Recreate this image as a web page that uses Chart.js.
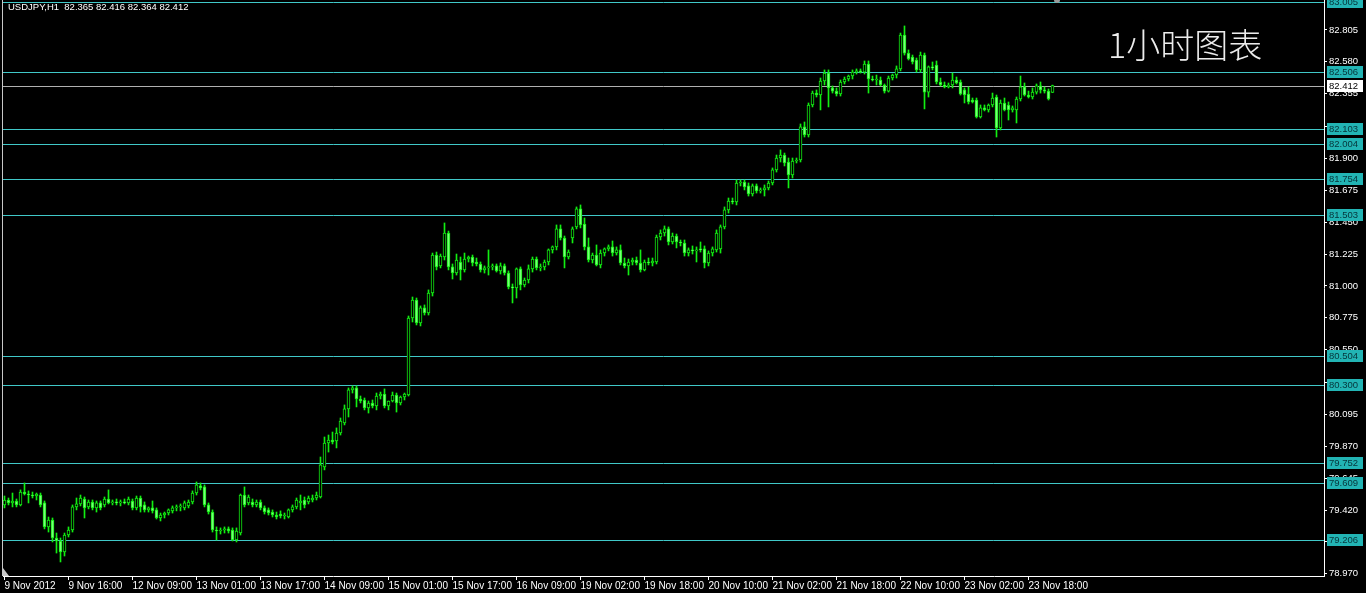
<!DOCTYPE html>
<html><head><meta charset="utf-8">
<script src="https://cdn.jsdelivr.net/npm/chart.js@4.4.1/dist/chart.umd.min.js"></script>
<style>html,body{margin:0;padding:0;background:#000;overflow:hidden}</style>
</head><body><canvas id="c" width="1366" height="593"></canvas>
<script>
const symbolInfo = 'USDJPY,H1  82.365 82.416 82.364 82.412';
const chartNote = '1小时图表';
const xTickBars = [0,16,32,48,64,80,96,112,128,144,160,176,192,208,224,240,256];
const xTickLabels = ['9 Nov 2012','9 Nov 16:00','12 Nov 09:00','13 Nov 01:00','13 Nov 17:00','14 Nov 09:00','15 Nov 01:00','15 Nov 17:00','16 Nov 09:00','19 Nov 02:00','19 Nov 18:00','20 Nov 10:00','21 Nov 02:00','21 Nov 18:00','22 Nov 10:00','23 Nov 02:00','23 Nov 18:00'];
const yTickValues = [78.970,79.195,79.420,79.645,79.870,80.095,80.320,80.550,80.775,81.000,81.225,81.450,81.675,81.900,82.125,82.355,82.580,82.805];
const yTickLabels = ['78.970','79.195','79.420','79.645','79.870','80.095','80.320','80.550','80.775','81.000','81.225','81.450','81.675','81.900','82.125','82.355','82.580','82.805'];
const levelValues = [83.005,82.506,82.103,82.004,81.754,81.503,80.504,80.300,79.752,79.609,79.206];
const levelLabels = ['83.005','82.506','82.103','82.004','81.754','81.503','80.504','80.300','79.752','79.609','79.206'];
const lastPrice = 82.412;
const lastPriceLabel = '82.412';

const openP = [
79.456,79.491,79.470,79.484,79.456,79.547,79.533,79.526,79.519,79.526,
79.470,79.301,79.350,79.223,79.202,79.124,79.244,79.279,79.442,79.463,
79.498,79.442,79.477,79.435,79.470,79.456,79.498,79.470,79.477,79.470,
79.477,79.470,79.484,79.435,79.505,79.456,79.421,79.435,79.421,79.364,
79.385,79.399,79.414,79.435,79.442,79.435,79.449,79.477,79.540,79.590,
79.583,79.456,79.406,79.279,79.272,79.279,79.287,79.279,79.209,79.258,
79.526,79.470,79.477,79.456,79.477,79.435,79.421,79.406,79.385,79.392,
79.378,79.371,79.421,79.442,79.470,79.491,79.477,79.491,79.505,79.512,
79.724,79.893,79.914,79.907,79.963,80.034,80.133,80.267,80.281,80.203,
80.196,80.140,80.175,80.154,80.224,80.238,80.154,80.189,80.231,80.175,
80.217,80.231,80.774,80.901,80.739,80.845,80.809,80.950,81.218,81.141,
81.204,81.373,81.134,81.091,81.169,81.113,81.190,81.204,81.169,81.155,
81.113,81.127,81.134,81.141,81.106,81.141,81.091,80.993,80.986,81.120,
81.007,81.042,81.120,81.190,81.127,81.134,81.169,81.254,81.275,81.402,
81.338,81.204,81.338,81.416,81.543,81.437,81.275,81.183,81.218,81.148,
81.232,81.261,81.275,81.232,81.254,81.162,81.141,81.169,81.183,81.162,
81.113,81.169,81.162,81.169,81.345,81.373,81.402,81.310,81.352,81.310,
81.303,81.232,81.254,81.247,81.261,81.261,81.162,81.232,81.254,81.261,
81.416,81.536,81.599,81.592,81.726,81.733,81.705,81.648,81.705,81.670,
81.677,81.691,81.726,81.818,81.902,81.923,81.874,81.782,81.881,81.888,
82.121,82.064,82.276,82.360,82.346,82.445,82.501,82.396,82.374,82.353,
82.438,82.459,82.480,82.508,82.516,82.508,82.565,82.459,82.452,82.452,
82.417,82.374,82.466,82.487,82.530,82.769,82.642,82.614,82.593,82.523,
82.628,82.367,82.544,82.558,82.438,82.417,82.403,82.417,82.452,82.438,
82.382,82.353,82.311,82.311,82.191,82.255,82.241,82.276,82.332,82.114,
82.290,82.276,82.241,82.241,82.318,82.403,82.346,82.332,82.367,82.410,
82.382,82.374,82.365];

const highP = [
79.519,79.505,79.540,79.498,79.562,79.611,79.555,79.547,79.540,79.540,
79.484,79.371,79.364,79.258,79.223,79.258,79.301,79.456,79.505,79.526,
79.512,79.491,79.491,79.484,79.484,79.512,79.562,79.491,79.498,79.491,
79.498,79.512,79.498,79.519,79.519,79.477,79.442,79.484,79.435,79.399,
79.406,79.428,79.449,79.456,79.463,79.484,79.491,79.555,79.618,79.611,
79.597,79.470,79.421,79.301,79.294,79.301,79.301,79.294,79.294,79.533,
79.583,79.526,79.498,79.491,79.491,79.449,79.435,79.421,79.406,79.414,
79.399,79.428,79.456,79.505,79.526,79.512,79.519,79.526,79.547,79.794,
79.935,79.949,79.970,79.999,80.069,80.161,80.281,80.295,80.295,80.224,
80.210,80.189,80.196,80.245,80.252,80.274,80.189,80.252,80.245,80.224,
80.245,80.788,80.922,80.915,80.859,80.866,80.972,81.232,81.239,81.225,
81.444,81.387,81.155,81.225,81.204,81.232,81.211,81.218,81.197,81.169,
81.141,81.254,81.155,81.155,81.162,81.155,81.106,81.014,81.127,81.134,
81.056,81.148,81.204,81.204,81.155,81.183,81.261,81.282,81.430,81.430,
81.352,81.254,81.416,81.557,81.571,81.479,81.338,81.232,81.289,81.254,
81.268,81.289,81.317,81.275,81.289,81.197,81.190,81.197,81.204,81.254,
81.183,81.197,81.197,81.359,81.395,81.423,81.416,81.373,81.366,81.324,
81.324,81.268,81.282,81.275,81.310,81.282,81.247,81.275,81.395,81.430,
81.557,81.620,81.620,81.747,81.747,81.747,81.726,81.719,81.719,81.691,
81.712,81.740,81.832,81.923,81.959,81.937,81.902,81.902,81.902,82.142,
82.156,82.290,82.374,82.382,82.466,82.523,82.523,82.410,82.396,82.452,
82.473,82.487,82.523,82.530,82.530,82.586,82.586,82.480,82.487,82.473,
82.424,82.480,82.494,82.551,82.783,82.833,82.664,82.628,82.607,82.649,
82.642,82.551,82.579,82.586,82.466,82.438,82.431,82.501,82.473,82.452,
82.396,82.403,82.325,82.325,82.276,82.276,82.283,82.360,82.346,82.311,
82.325,82.297,82.269,82.332,82.480,82.431,82.374,82.396,82.424,82.438,
82.403,82.389,82.416];

const lowP = [
79.435,79.456,79.442,79.442,79.449,79.526,79.470,79.505,79.491,79.442,
79.287,79.265,79.195,79.117,79.054,79.096,79.230,79.265,79.421,79.449,
79.364,79.428,79.421,79.406,79.421,79.442,79.463,79.456,79.456,79.449,
79.463,79.456,79.421,79.421,79.406,79.406,79.406,79.399,79.357,79.343,
79.364,79.385,79.399,79.414,79.414,79.421,79.435,79.463,79.526,79.562,
79.442,79.392,79.265,79.209,79.251,79.258,79.258,79.202,79.195,79.244,
79.442,79.456,79.442,79.442,79.421,79.392,79.385,79.371,79.357,79.364,
79.357,79.364,79.406,79.428,79.421,79.435,79.463,79.477,79.491,79.505,
79.703,79.829,79.886,79.858,79.949,80.020,80.076,80.245,80.147,80.175,
80.126,80.104,80.140,80.126,80.203,80.140,80.126,80.182,80.111,80.161,
80.196,80.224,80.746,80.725,80.718,80.795,80.795,80.929,81.113,81.127,
81.183,81.113,81.049,81.077,81.042,81.098,81.169,81.141,81.141,81.098,
81.091,81.077,81.113,81.098,81.084,81.077,80.979,80.880,80.915,80.972,
80.993,81.021,81.098,81.113,81.106,81.113,81.148,81.232,81.254,81.324,
81.127,81.190,81.303,81.402,81.409,81.254,81.169,81.162,81.141,81.127,
81.211,81.247,81.211,81.218,81.148,81.127,81.077,81.148,81.148,81.098,
81.106,81.148,81.141,81.155,81.324,81.352,81.289,81.296,81.268,81.282,
81.211,81.211,81.225,81.169,81.239,81.127,81.141,81.211,81.239,81.232,
81.402,81.514,81.578,81.571,81.705,81.677,81.634,81.634,81.655,81.655,
81.634,81.677,81.712,81.803,81.874,81.846,81.691,81.761,81.867,81.874,
82.050,82.050,82.262,82.332,82.241,82.417,82.262,82.360,82.339,82.339,
82.424,82.445,82.459,82.494,82.501,82.494,82.360,82.445,82.417,82.410,
82.360,82.367,82.452,82.466,82.516,82.628,82.593,82.565,82.508,82.508,
82.248,82.332,82.523,82.424,82.410,82.396,82.396,82.396,82.424,82.346,
82.290,82.283,82.290,82.184,82.184,82.234,82.226,82.262,82.050,82.100,
82.234,82.170,82.226,82.149,82.304,82.339,82.325,82.318,82.353,82.360,
82.360,82.311,82.364];

const closeP = [
79.491,79.470,79.484,79.456,79.547,79.533,79.526,79.519,79.533,79.456,
79.301,79.350,79.223,79.202,79.124,79.244,79.279,79.442,79.463,79.505,
79.435,79.477,79.435,79.470,79.435,79.498,79.470,79.477,79.470,79.477,
79.470,79.498,79.435,79.505,79.442,79.421,79.435,79.414,79.364,79.385,
79.399,79.421,79.435,79.442,79.449,79.470,79.477,79.540,79.597,79.576,
79.456,79.406,79.279,79.272,79.279,79.287,79.272,79.209,79.272,79.526,
79.456,79.512,79.456,79.477,79.435,79.406,79.399,79.385,79.371,79.378,
79.385,79.421,79.442,79.491,79.484,79.456,79.505,79.505,79.526,79.738,
79.893,79.914,79.900,79.963,80.048,80.133,80.267,80.281,80.203,80.189,
80.140,80.175,80.154,80.224,80.238,80.154,80.189,80.231,80.175,80.217,
80.238,80.774,80.901,80.739,80.845,80.809,80.950,81.218,81.134,81.211,
81.373,81.134,81.091,81.183,81.113,81.190,81.204,81.162,81.155,81.113,
81.127,81.134,81.141,81.106,81.141,81.091,80.993,80.986,81.120,81.007,
81.042,81.120,81.190,81.127,81.134,81.169,81.254,81.275,81.402,81.338,
81.204,81.239,81.402,81.543,81.430,81.275,81.183,81.218,81.148,81.232,
81.261,81.275,81.232,81.254,81.162,81.141,81.169,81.183,81.162,81.113,
81.169,81.162,81.176,81.345,81.373,81.402,81.310,81.352,81.310,81.303,
81.232,81.254,81.247,81.254,81.254,81.162,81.232,81.261,81.373,81.416,
81.536,81.599,81.592,81.726,81.733,81.698,81.648,81.705,81.670,81.677,
81.691,81.726,81.818,81.902,81.923,81.867,81.782,81.881,81.888,82.121,
82.064,82.276,82.360,82.346,82.445,82.501,82.396,82.374,82.353,82.438,
82.459,82.480,82.508,82.516,82.508,82.565,82.459,82.452,82.452,82.417,
82.374,82.466,82.487,82.530,82.769,82.642,82.600,82.579,82.523,82.628,
82.367,82.544,82.537,82.438,82.417,82.403,82.417,82.452,82.431,82.353,
82.346,82.297,82.297,82.191,82.255,82.241,82.276,82.325,82.114,82.290,
82.241,82.241,82.255,82.318,82.403,82.346,82.332,82.367,82.410,82.382,
82.374,82.318,82.412];

const GREEN = '#12ee12';
const BEAR_FILL = '#78ff78';
const LEVEL_COLOR = '#40c8c8';

const wickData = openP.map((o, i) => ({x: i, y: [lowP[i], highP[i]]}));
const bodyData = openP.map((o, i) => ({x: i, y: [o, closeP[i]]}));

const decorPlugin = {
  id: 'decor',
  beforeDatasetsDraw(chart) {
    const {ctx, chartArea: a, scales: {y}} = chart;
    ctx.save();
    ctx.lineWidth = 1;
    ctx.strokeStyle = LEVEL_COLOR;
    levelValues.forEach(v => {
      const py = Math.round(y.getPixelForValue(v)) + 0.5;
      ctx.beginPath(); ctx.moveTo(a.left, py); ctx.lineTo(a.right, py); ctx.stroke();
    });
    const pp = Math.round(y.getPixelForValue(lastPrice)) + 0.5;
    ctx.strokeStyle = '#b0b0b0';
    ctx.beginPath(); ctx.moveTo(a.left, pp); ctx.lineTo(a.right, pp); ctx.stroke();
    ctx.restore();
  },
  afterDraw(chart) {
    const {ctx, chartArea: a, scales: {y}} = chart;
    ctx.save();
    ctx.font = '9.5px "Liberation Sans"';
    ctx.textBaseline = 'middle';
    levelValues.forEach((v, i) => {
      const py = Math.round(y.getPixelForValue(v));
      ctx.fillStyle = '#22b4b4';
      ctx.fillRect(a.right + 3, py - 6, 36, 12);
      ctx.fillStyle = '#06343a';
      ctx.fillText(levelLabels[i], a.right + 5, py + 0.5);
    });
    const pp = Math.round(y.getPixelForValue(lastPrice));
    ctx.fillStyle = '#ffffff';
    ctx.fillRect(a.right + 3, pp - 6, 36, 12);
    ctx.fillStyle = '#000000';
    ctx.fillText(lastPriceLabel, a.right + 5, pp + 0.5);
    ctx.strokeStyle = '#c8c8c8';
    ctx.lineWidth = 1;
    ctx.beginPath(); ctx.moveTo(2.5, 0); ctx.lineTo(2.5, a.bottom); ctx.stroke();
    ctx.fillStyle = '#c8c8c8';
    ctx.beginPath(); ctx.moveTo(3, a.bottom - 8); ctx.lineTo(9, a.bottom); ctx.lineTo(3, a.bottom); ctx.closePath(); ctx.fill();
    ctx.fillStyle = '#9a9a9a';
    ctx.beginPath(); ctx.arc(1057, 0, 3, 0, Math.PI); ctx.fill();
    ctx.fillStyle = '#ffffff';
    ctx.font = '9.5px "Liberation Sans"';
    ctx.textBaseline = 'middle';
    ctx.fillText(symbolInfo, 8, 7);
    ctx.font = '300 34px "Noto Sans CJK SC"';
    ctx.fillStyle = '#ececec';
    ctx.textBaseline = 'alphabetic';
    ctx.fillText(chartNote, 1108, 58);
    ctx.restore();
  }
};

new Chart(document.getElementById('c'), {
  type: 'bar',
  data: {
    datasets: [
      {label: 'range', data: wickData, backgroundColor: GREEN, borderWidth: 0,
       barThickness: 1, grouped: false, order: 2},
      {label: 'body', data: bodyData,
       backgroundColor: ctx => (closeP[ctx.dataIndex] >= openP[ctx.dataIndex] ? '#000000' : BEAR_FILL),
       borderColor: GREEN, borderWidth: 1, borderSkipped: false, minBarLength: 1,
       barThickness: 3, grouped: false, order: 1}
    ]
  },
  options: {
    responsive: false, animation: false, devicePixelRatio: 1,
    layout: {padding: {left: 3, right: 0, top: 0, bottom: 0}},
    plugins: {legend: {display: false}, tooltip: {enabled: false}},
    scales: {
      x: {
        type: 'linear', min: -0.375, max: 329.875, offset: false,
        afterBuildTicks: s => { s.ticks = xTickBars.map(v => ({value: v})); },
        afterFit: s => { s.height = 17; s.paddingLeft = 0; s.paddingRight = 0; },
        grid: {display: true, drawOnChartArea: false, drawTicks: true, tickLength: 4, color: '#ffffff', offset: false},
        border: {display: true, color: '#ffffff', width: 1},
        ticks: {color: '#ffffff', font: {family: 'Liberation Sans', size: 10}, align: 'start',
                padding: 0, maxRotation: 0, autoSkip: false, callback: (v, i) => xTickLabels[i]}
      },
      y: {
        type: 'linear', position: 'right', min: 78.955, max: 83.016,
        afterBuildTicks: s => { s.ticks = yTickValues.map(v => ({value: v})); },
        afterFit: s => { s.width = 42; s.paddingTop = 0; s.paddingBottom = 0; },
        grid: {display: true, drawOnChartArea: false, drawTicks: true, tickLength: 3, color: '#ffffff'},
        border: {display: true, color: '#ffffff', width: 1},
        ticks: {color: '#ffffff', font: {family: 'Liberation Sans', size: 9.5}, padding: 2,
                autoSkip: false, callback: (v, i) => yTickLabels[i]}
      }
    }
  },
  plugins: [decorPlugin]
});
</script>
</body></html>
